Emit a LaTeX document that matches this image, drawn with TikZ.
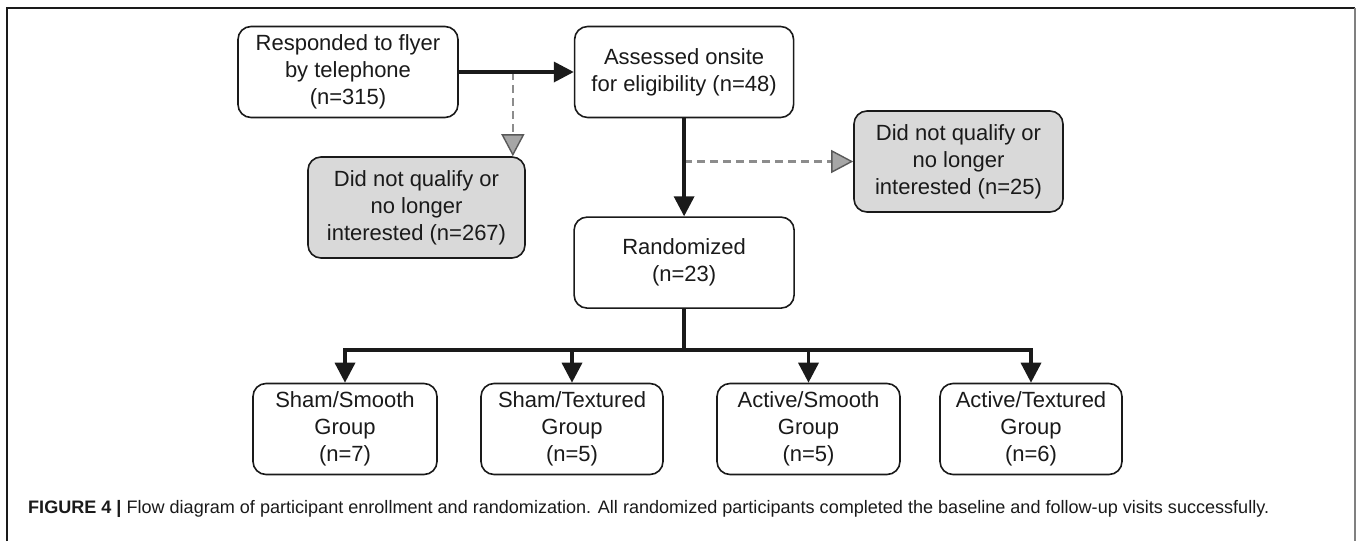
\documentclass[tikz,border=0pt]{standalone}
\usepackage{fontspec}
\setmainfont{Liberation Sans}
\usepackage{graphicx}
\usepackage{tikz}
\usetikzlibrary{positioning,arrows.meta,calc}
\definecolor{boxgray}{HTML}{D9D9D9}
\definecolor{dashgray}{HTML}{8C8C8C}
\definecolor{tipgray}{HTML}{A6A6A6}
\definecolor{ink}{HTML}{1A1A1A}
\tikzset{flow box/.style={draw=ink,line width=1.6pt,rounded corners=13pt,align=center,font=\fontsize{22}{27}\selectfont,text=ink,minimum height=91pt,fill=#1},
flow box/.default=white,
flow/.style={draw=ink,line width=3.5pt},
flow arrow/.style={flow,-{Triangle[length=20pt,width=20pt]}},
drop arrow/.style={draw=dashgray,line width=2.2pt,dash pattern=on 8pt off 5pt,-{Triangle[length=22pt,width=23pt,fill=tipgray,color=black!65,line width=1.4pt]}}}

\begin{document}
\begin{tikzpicture}[x=1pt,y=-1pt]
\useasboundingbox (0,0) rectangle (1357,541);
\draw[line width=1.5pt,ink] (7,541) -- (7,8) -- (1355,8);
\draw[line width=1.5pt,gray] (1355,8) -- (1355,541);
% enrollment
\node[flow box,minimum width=220pt] (responded) at (348,72) {Responded to flyer\\by telephone\\(n=315)};
\node[flow box,minimum width=219pt,right=115pt of responded] (assessed) {Assessed onsite\\for eligibility (n=48)};
\node[flow box=boxgray,minimum width=217pt,minimum height=101pt] (excluded a) at (416.5,207.5) {Did not qualify or\\no longer\\interested (n=267)};
\node[flow box,minimum width=220pt,below=98pt of assessed] (randomized) {Randomized\\(n=23)};
\node[flow box=boxgray,minimum width=209pt,minimum height=101pt] (excluded b) at (958.5,161.5) {Did not qualify or\\no longer\\interested (n=25)};
% groups
\node[flow box,minimum width=184pt] (sham smooth) at (345,429) {Sham/Smooth\\Group\\(n=7)};
\node[flow box,minimum width=182pt] (sham textured) at (572,429) {Sham/Textured\\Group\\(n=5)};
\node[flow box,minimum width=183pt] (active smooth) at (808.5,429) {Active/Smooth\\Group\\(n=5)};
\node[flow box,minimum width=182pt] (active textured) at (1031,429) {Active/Textured\\Group\\(n=6)};
% connectors
\coordinate (split a) at ($(responded.east)!.47!(assessed.west)$);
\coordinate (split b) at (assessed.south |- excluded b.west);
\draw[drop arrow] (split a) -- (split a |- excluded a.north);
\draw[drop arrow] (split b) -- (excluded b.west);
\draw[flow arrow] (responded) -- (assessed);
\draw[flow arrow] (assessed) -- (randomized);
\coordinate (fork) at ($(randomized.south)+(0,41)$);
\draw[flow] (randomized.south) -- (fork);
\draw[flow,line cap=rect] (fork -| sham smooth.north) -- (fork -| active textured.north);
\foreach \grp in {sham smooth,sham textured,active smooth,active textured}
  \draw[flow arrow] (fork -| \grp.north) -- (\grp.north);
% caption
\node[anchor=base west,text=ink,inner sep=0pt] (caption) at (28,513) {\resizebox{1241pt}{!}{\fontsize{16}{19}\selectfont\textbf{FIGURE 4 |} Flow diagram of participant enrollment and randomization. All randomized participants completed the baseline and follow-up visits successfully.}};
\end{tikzpicture}
\end{document}
